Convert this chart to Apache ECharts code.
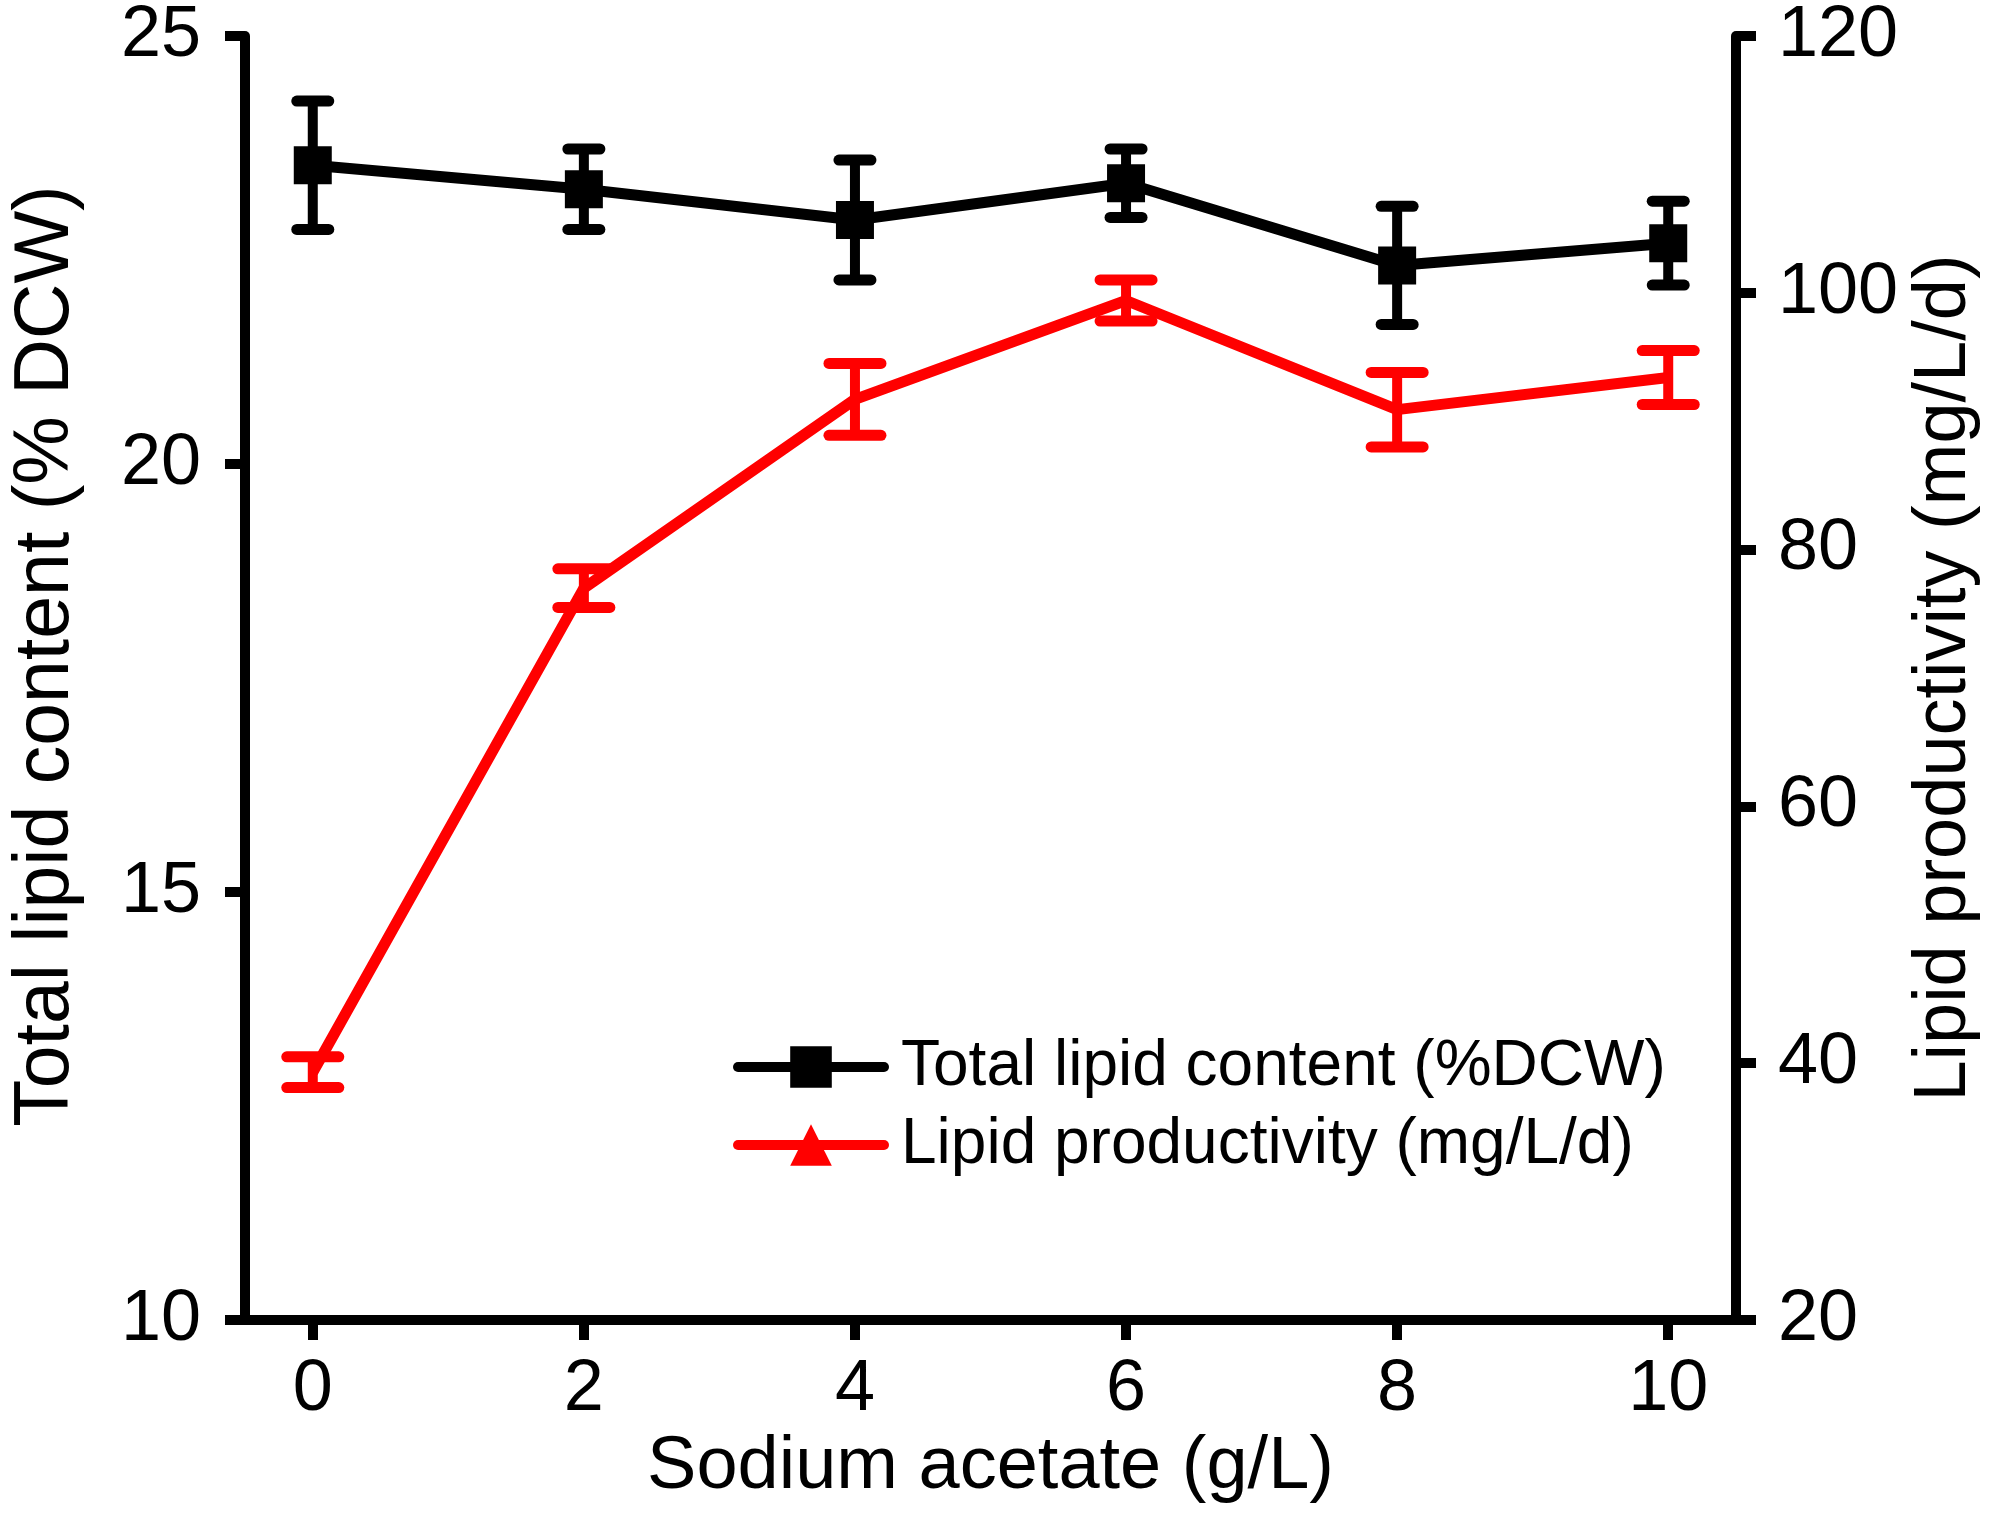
<!DOCTYPE html>
<html>
<head>
<meta charset="utf-8">
<script src="https://cdn.jsdelivr.net/npm/echarts@6/dist/echarts.min.js"></script>
<style>
  html, body { margin: 0; padding: 0; background: #fff; }
  #chart { width: 1995px; height: 1524px; }
</style>
</head>
<body>
<div id="chart"></div>
<script>
// sodium acetate concentration (g/L)
var acetate = [0, 2, 4, 6, 8, 10];
// total lipid content (% DCW) and its error
var lipidContent = [23.49, 23.21, 22.85, 23.28, 22.32, 22.58];
var lipidContentErr = [0.75, 0.47, 0.70, 0.40, 0.69, 0.49];
// lipid productivity (mg/L/d) and its error
var productivity = [39.3, 77.0, 91.7, 99.4, 90.9, 93.4];
var productivityErr = [1.2, 1.5, 2.8, 1.6, 2.9, 2.1];

var xTicks = [0, 2, 4, 6, 8, 10];

var font = '"Liberation Sans", Arial, sans-serif';

function pairs(xs, ys) {
    return xs.map(function (x, i) { return [x, ys[i]]; });
}
function errData(xs, ys, es) {
    return xs.map(function (x, i) { return [x, ys[i] - es[i], ys[i] + es[i]]; });
}
function errRender(color, capW) {
    return function (params, api) {
        var x = api.value(0);
        var lo = api.coord([x, api.value(1)]);
        var hi = api.coord([x, api.value(2)]);
        var st = { stroke: color, lineWidth: 11, lineCap: 'round' };
        return {
            type: 'group',
            children: [
                { type: 'line', shape: { x1: lo[0], y1: lo[1], x2: hi[0], y2: hi[1] }, style: { stroke: color, lineWidth: 10 } },
                { type: 'line', shape: { x1: hi[0] - capW / 2, y1: hi[1], x2: hi[0] + capW / 2, y2: hi[1] }, style: st },
                { type: 'line', shape: { x1: lo[0] - capW / 2, y1: lo[1], x2: lo[0] + capW / 2, y2: lo[1] }, style: st }
            ]
        };
    };
}

var axisCommon = {
    axisLine: { show: true, onZero: false, lineStyle: { color: '#000', width: 10 } },
    axisTick: { show: true, inside: false, length: 20, lineStyle: { color: '#000', width: 10 } },
    axisLabel: { color: '#000', fontSize: 72, fontFamily: font },
    splitLine: { show: false },
    nameTextStyle: { color: '#000', fontSize: 74, fontFamily: font },
    nameLocation: 'middle',
    nameMoveOverlap: false
};

var chart = echarts.init(document.getElementById('chart'));
chart.setOption({
    backgroundColor: '#fff',
    animation: false,
    grid: { left: 237, right: 259, top: 35, bottom: 204 },
    legend: {
        orient: 'vertical',
        left: 728,
        top: 1030,
        itemWidth: 146,
        itemHeight: 52,
        itemGap: 14,
        lineStyle: { width: 10, cap: 'round' },
        textStyle: { color: '#000', fontSize: 64, fontFamily: font, padding: [0, 0, 0, 12] },
        data: ['Total lipid content (%DCW)', 'Lipid productivity (mg/L/d)']
    },
    xAxis: Object.assign({}, axisCommon, {
        type: 'value',
        min: -0.5,
        max: 10.5,
        name: 'Sodium acetate (g/L)',
        nameGap: 111,
        axisTick: Object.assign({}, axisCommon.axisTick, { customValues: xTicks }),
        axisLabel: Object.assign({}, axisCommon.axisLabel, { customValues: xTicks, margin: 34 })
    }),
    yAxis: [
        Object.assign({}, axisCommon, {
            type: 'value',
            min: 10,
            max: 25,
            interval: 5,
            name: 'Total lipid content (% DCW)',
            nameGap: 160,
            nameTextStyle: { color: '#000', fontSize: 77, fontFamily: font, padding: [0, 0, 0, 44] },
            axisLabel: Object.assign({}, axisCommon.axisLabel, { margin: 44 })
        }),
        Object.assign({}, axisCommon, {
            type: 'value',
            position: 'right',
            min: 20,
            max: 120,
            interval: 20,
            name: 'Lipid productivity (mg/L/d)',
            nameGap: 172,
            nameRotate: 90,
            axisLabel: Object.assign({}, axisCommon.axisLabel, { margin: 42 })
        })
    ],
    series: [
        {
            name: 'Lipid productivity (mg/L/d)',
            type: 'line',
            yAxisIndex: 1,
            data: pairs(acetate, productivity),
            symbol: 'triangle',
            showSymbol: false,
            itemStyle: { color: '#ff0000' },
            lineStyle: { color: '#ff0000', width: 11 },
            z: 2
        },
        {
            type: 'custom',
            yAxisIndex: 1,
            data: errData(acetate, productivity, productivityErr),
            renderItem: errRender('#ff0000', 52),
            z: 3
        },
        {
            name: 'Total lipid content (%DCW)',
            type: 'line',
            yAxisIndex: 0,
            data: pairs(acetate, lipidContent),
            symbol: 'rect',
            symbolSize: 38,
            itemStyle: { color: '#000' },
            lineStyle: { color: '#000', width: 11 },
            z: 4
        },
        {
            type: 'custom',
            yAxisIndex: 0,
            data: errData(acetate, lipidContent, lipidContentErr),
            renderItem: errRender('#000', 32),
            z: 5
        }
    ]
});
</script>
</body>
</html>
